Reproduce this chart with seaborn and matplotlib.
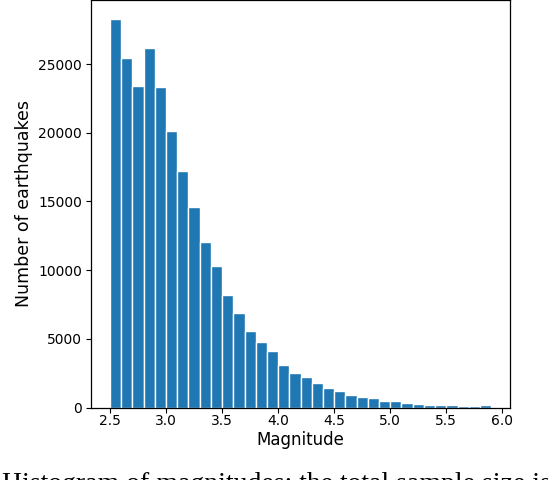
import seaborn as sns
import numpy as np
import pandas as pd
import matplotlib.pyplot as plt

# bin left edges (width 0.1) and counts
bin_left = [2.5, 2.6, 2.7, 2.8, 2.9, 3.0, 3.1, 3.2, 3.3, 3.4, 3.5, 3.6,
            3.7, 3.8, 3.9, 4.0, 4.1, 4.2, 4.3, 4.4, 4.5, 4.6, 4.7, 4.8,
            4.9, 5.0, 5.1, 5.2, 5.3, 5.4, 5.5, 5.6, 5.7, 5.8]
counts = [28250, 25450, 23380, 26180, 23360, 20130, 17250, 14600, 12030,
          10280, 8190, 6900, 5560, 4790, 4130, 3090, 2540, 2220, 1820,
          1440, 1210, 930, 780, 660, 510, 440, 360, 270, 200, 170, 150,
          130, 130, 190]
xticks = [2.5, 3.0, 3.5, 4.0, 4.5, 5.0, 5.5, 6.0]
yticks = [0, 5000, 10000, 15000, 20000, 25000]

df = pd.DataFrame({'Magnitude': np.array(bin_left) + 0.05, 'Liczba': counts})

sns.set_style('ticks', rc={'axes.edgecolor': 'black', 'xtick.color': 'black',
                           'ytick.color': 'black', 'text.color': 'black',
                           'axes.labelcolor': 'black'})
plt.rcParams['font.family'] = ['DejaVu Sans']

fig = plt.figure(figsize=(5.48, 4.8), dpi=100)
ax = fig.add_axes([0.166, 0.151, 0.765, 0.849])

sns.histplot(data=df, x='Magnitude', weights='Liczba', binwidth=0.1,
             binrange=(bin_left[0], bin_left[-1] + 0.1), ax=ax,
             color='#1f77b4', alpha=1, edgecolor='white', linewidth=1)

ax.set_xticks(xticks)
ax.set_yticks(yticks)
ax.tick_params(labelsize=10, length=3.5, width=0.8)
ax.tick_params(axis='x', pad=1)
ax.tick_params(axis='y', pad=3)
ax.set_xlabel('Magnitude', fontsize=12, labelpad=2)
ax.set_ylabel('Number of earthquakes', fontsize=12.5, labelpad=4)
for s in ax.spines.values():
    s.set_linewidth(0.9)

fig.text(0.003, 1 - 472 / 480, 'Histogram of magnitudes: the total sample size is',
         fontsize=20, family='Liberation Serif', va='top', ha='left')

fig.savefig('out.png', dpi=100)
